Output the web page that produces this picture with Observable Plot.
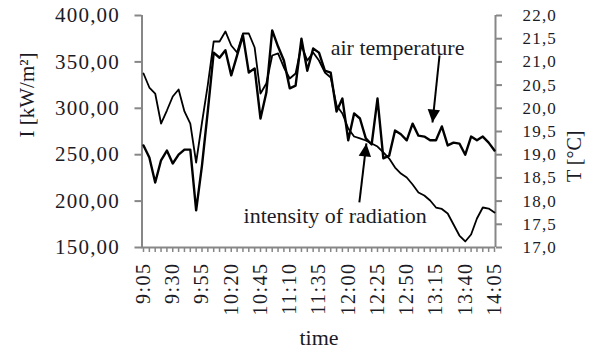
<!DOCTYPE html>
<html><head><meta charset="utf-8">
<script src="https://cdn.jsdelivr.net/npm/d3@7"></script>
<script src="https://cdn.jsdelivr.net/npm/@observablehq/plot@0.6"></script>
<style>body{margin:0;background:#fff}</style>
</head><body><div id="chart"></div>
<script>
const times = ["9:05","9:10","9:15","9:20","9:25","9:30","9:35","9:40","9:45","9:50","9:55",
"10:00","10:05","10:10","10:15","10:20","10:25","10:30","10:35","10:40","10:45","10:50","10:55",
"11:00","11:05","11:10","11:15","11:20","11:25","11:30","11:35","11:40","11:45","11:50","11:55",
"12:00","12:05","12:10","12:15","12:20","12:25","12:30","12:35","12:40","12:45","12:50","12:55",
"13:00","13:05","13:10","13:15","13:20","13:25","13:30","13:35","13:40","13:45","13:50","13:55",
"14:00","14:05"];
// intensity of radiation I [kW/m²] (left axis)
const radiation = [337.5,322.4,315.9,283.6,297.6,312.7,320.3,296.6,283.6,241.6,284.7,
325.6,372,372,382.8,367.7,360.1,380.6,380.6,365.5,315.9,326.7,356.9,
359.1,344,332.1,337.5,367.7,351.5,360.1,351.5,338.6,333.2,303,294.4,
278.2,269.6,267.5,265.3,262.1,258.8,252.4,245.9,236.2,229.7,225.4,217.9,
209.3,206,200.6,193.1,191.5,186.6,174.8,162.9,156.5,164,181.2,193.1,
192,187.7];
// air temperature T [°C] (right axis)
const temperature = [19.20,18.94,18.40,18.88,19.09,18.81,19.00,19.11,19.11,17.80,18.77,
19.95,21.20,21.09,21.25,20.71,21.14,21.57,20.77,20.86,19.78,20.34,21.68,
21.33,21.03,20.43,20.49,21.50,20.81,21.29,21.20,20.81,20.77,19.93,20.21,
19.31,19.89,19.78,19.35,19.22,20.21,18.92,18.98,19.52,19.44,19.31,19.67,
19.41,19.39,19.31,19.31,19.61,19.20,19.26,19.24,19.00,19.39,19.31,19.39,
19.26,19.09];
const leftTicks = [150,200,250,300,350,400];
const rightTicks = [17.0,17.5,18.0,18.5,19.0,19.5,20.0,20.5,21.0,21.5,22.0];
const labelStep = 5;
// annotations: time index and left-axis value
const annotations = [
  {text:"air temperature", x:32.0, y:356.9},
  {text:"intensity of radiation", x:17.1, y:176.9}
];
const arrows = [
  {x1:50.6, y1:356.9, x2:49.4, y2:284.7, ux:-0.104, uy:0.995},
  {x1:36.9, y1:198.5, x2:38.1, y2:262.1, ux:0.118, uy:-0.993}
];

const Tmin = 17, Tmax = 22, Imin = 150, Imax = 400;
const toI = t => Imin + (t - Tmin) * (Imax - Imin) / (Tmax - Tmin);
const fromI = v => Tmin + (v - Imin) * (Tmax - Tmin) / (Imax - Imin);
const comma = (v, n) => v.toFixed(n).replace(".", ",");
const idx = times.map((t, i) => i);
const labeled = idx.filter(i => i % labelStep === 0);

function head(ux, uy) {
  const L = 13, W = 6.2;
  return {draw(ctx) {
    const bx = -ux * L, by = -uy * L;
    ctx.moveTo(0, 0);
    ctx.lineTo(bx - uy * W, by + ux * W);
    ctx.lineTo(bx + uy * W, by - ux * W);
    ctx.closePath();
  }};
}

const gray = "#878787", ink = "#1b1b26";
const chart = Plot.plot({
  width: 589, height: 350,
  marginLeft: 143, marginRight: 95, marginTop: 15, marginBottom: 103,
  style: {fontFamily: "'Liberation Serif', 'Times New Roman', serif", background: "#fff", overflow: "visible"},
  x: {domain: [0, times.length - 1], label: null},
  y: {domain: [Imin, Imax], label: null},
  marks: [
    Plot.ruleY([Imin], {stroke: gray, strokeWidth: 2, insetLeft: -2, insetRight: -1}),
    Plot.ruleX([0], {y1: Imin, y2: Imax, stroke: gray, strokeWidth: 2, dx: -1.5}),
    Plot.ruleX([times.length - 1], {y1: Imin, y2: Imax, stroke: gray, strokeWidth: 2, dx: 1}),
    Plot.axisY(leftTicks, {anchor: "left", tickFormat: d => comma(d, 2), tickSize: 7, tickPadding: 15, dx: -1.5,
      stroke: gray, strokeWidth: 2, fill: ink, fontSize: 21, label: null}),
    Plot.axisY(rightTicks.map(toI), {anchor: "right", tickFormat: d => comma(fromI(d), 1), tickSize: 6, tickPadding: 21, dx: 1,
      stroke: gray, strokeWidth: 2, fill: ink, fontSize: 17, label: null}),
    Plot.axisX(idx, {anchor: "bottom", tickSize: 5, tickFormat: () => "", stroke: gray, strokeWidth: 1.5, label: null}),
    Plot.axisX(labeled, {anchor: "bottom", tickSize: 0, tickPadding: 15, tickRotate: -90, tickFormat: i => times[i],
      fill: ink, fontSize: 20, label: null}),
    Plot.line(radiation, {x: (d, i) => i, y: d => d, stroke: "#000", strokeWidth: 1.8}),
    Plot.line(temperature, {x: (d, i) => i, y: d => toI(d), stroke: "#000", strokeWidth: 2.4}),
    Plot.link(arrows, {x1: "x1", y1: "y1", x2: "x2", y2: "y2", stroke: "#000", strokeWidth: 2}),
    Plot.dot([arrows[0]], {x: "x2", y: "y2", symbol: head(arrows[0].ux, arrows[0].uy), fill: "#000", stroke: "none", r: 5}),
    Plot.dot([arrows[1]], {x: "x2", y: "y2", symbol: head(arrows[1].ux, arrows[1].uy), fill: "#000", stroke: "none", r: 5}),
    Plot.text(annotations, {x: "x", y: "y", text: "text", textAnchor: "start", lineAnchor: "bottom", fontSize: 22, fill: ink}),
    Plot.text(["I [kW/m²]"], {frameAnchor: "left", rotate: -90, dx: -116, dy: 6, fontSize: 21, fill: ink}),
    Plot.text(["T [°C]"], {frameAnchor: "right", rotate: -90, dx: 80, dy: -1, fontSize: 20, fill: ink}),
    Plot.text(["time"], {frameAnchor: "bottom", lineAnchor: "bottom", dy: 97, fontSize: 22, fill: ink})
  ]
});
chart.querySelectorAll('g[aria-label="y-axis tick label"] text').forEach(t => t.style.letterSpacing = "1.2px");
chart.querySelectorAll('g[aria-label="x-axis tick label"] text').forEach(t => t.style.letterSpacing = "1.5px");
document.getElementById("chart").appendChild(chart);
</script>
</body></html>
